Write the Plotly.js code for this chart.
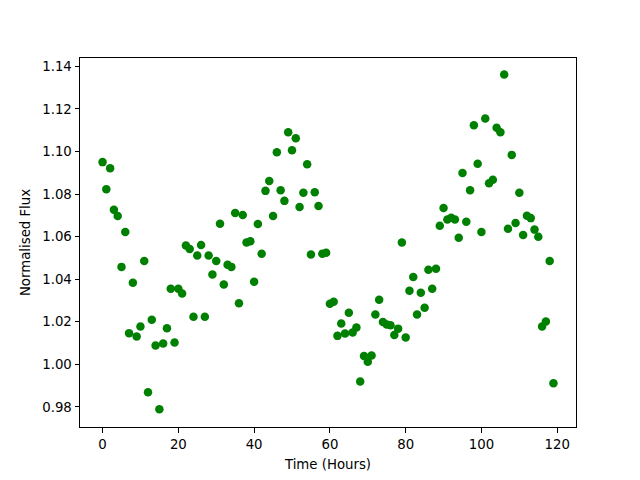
<!DOCTYPE html>
<html>
<head>
<meta charset="utf-8">
<script src="https://cdn.plot.ly/plotly-3.0.1.min.js"></script>
<style>html,body{margin:0;padding:0;background:#fff;}#chart{width:640px;height:480px;}</style>
</head>
<body>
<div id="chart"></div>
<script>
const hours = Array.from({length: 120}, (_, i) => i);
const flux = [
  1.0950, 1.0823, 1.0921, 1.0726, 1.0697, 1.0458, 1.0622, 1.0146, 1.0383, 1.0131,
  1.0178, 1.0486, 0.9869, 1.0210, 1.0089, 0.9789, 1.0098, 1.0170, 1.0355, 1.0103,
  1.0355, 1.0333, 1.0558, 1.0542, 1.0224, 1.0511, 1.0561, 1.0224, 1.0511, 1.0422,
  1.0486, 1.0661, 1.0375, 1.0468, 1.0458, 1.0711, 1.0287, 1.0702, 1.0573, 1.0578,
  1.0388, 1.0659, 1.0520, 1.0815, 1.0861, 1.0697, 1.0996, 1.0818, 1.0768, 1.1090,
  1.1006, 1.1062, 1.0739, 1.0806, 1.0940, 1.0516, 1.0809, 1.0744, 1.0520, 1.0524,
  1.0285, 1.0294, 1.0134, 1.0192, 1.0145, 1.0243, 1.0150, 1.0173, 0.9920, 1.0039,
  1.0012, 1.0042, 1.0234, 1.0304, 1.0199, 1.0187, 1.0184, 1.0138, 1.0168, 1.0573,
  1.0126, 1.0346, 1.0411, 1.0234, 1.0337, 1.0266, 1.0444, 1.0355, 1.0449, 1.0651,
  1.0734, 1.0680, 1.0689, 1.0680, 1.0595, 1.0899, 1.0670, 1.0818, 1.1123, 1.0942,
  1.0622, 1.1155, 1.0851, 1.0867, 1.1111, 1.1090, 1.1361, 1.0637, 1.0984, 1.0664,
  1.0806, 1.0608, 1.0698, 1.0687, 1.0633, 1.0599, 1.0178, 1.0201, 1.0486, 0.9911
];
const xLabel = "Time (Hours)";
const yLabel = "Normalised Flux";

const font = {family: "DejaVu Sans, sans-serif", size: 13.3, color: "#000"};
const axisCommon = {
  showgrid: false, zeroline: false, showline: true, mirror: true,
  linecolor: "#000", linewidth: 1, ticks: "outside", ticklen: 4.5,
  tickcolor: "#000", tickwidth: 1, tickfont: font
};

Plotly.newPlot("chart", [{
  x: hours, y: flux, type: "scatter", mode: "markers",
  marker: {color: "#008000", size: 8.5, line: {width: 0}}
}], {
  width: 640, height: 480,
  margin: {l: 80, r: 64, t: 58, b: 53, pad: 0},
  paper_bgcolor: "#fff", plot_bgcolor: "#fff",
  font: font, showlegend: false,
  xaxis: Object.assign({}, axisCommon, {
    range: [-5.95, 124.95], tick0: 0, dtick: 20, ticklabelstandoff: 1,
    title: {text: xLabel, font: font, standoff: 8}
  }),
  yaxis: Object.assign({}, axisCommon, {
    range: [0.9706, 1.1439], tick0: 0.98, dtick: 0.02, tickformat: ".2f",
    title: {text: yLabel, font: font, standoff: 8}
  })
}, {staticPlot: true});
</script>
</body>
</html>
